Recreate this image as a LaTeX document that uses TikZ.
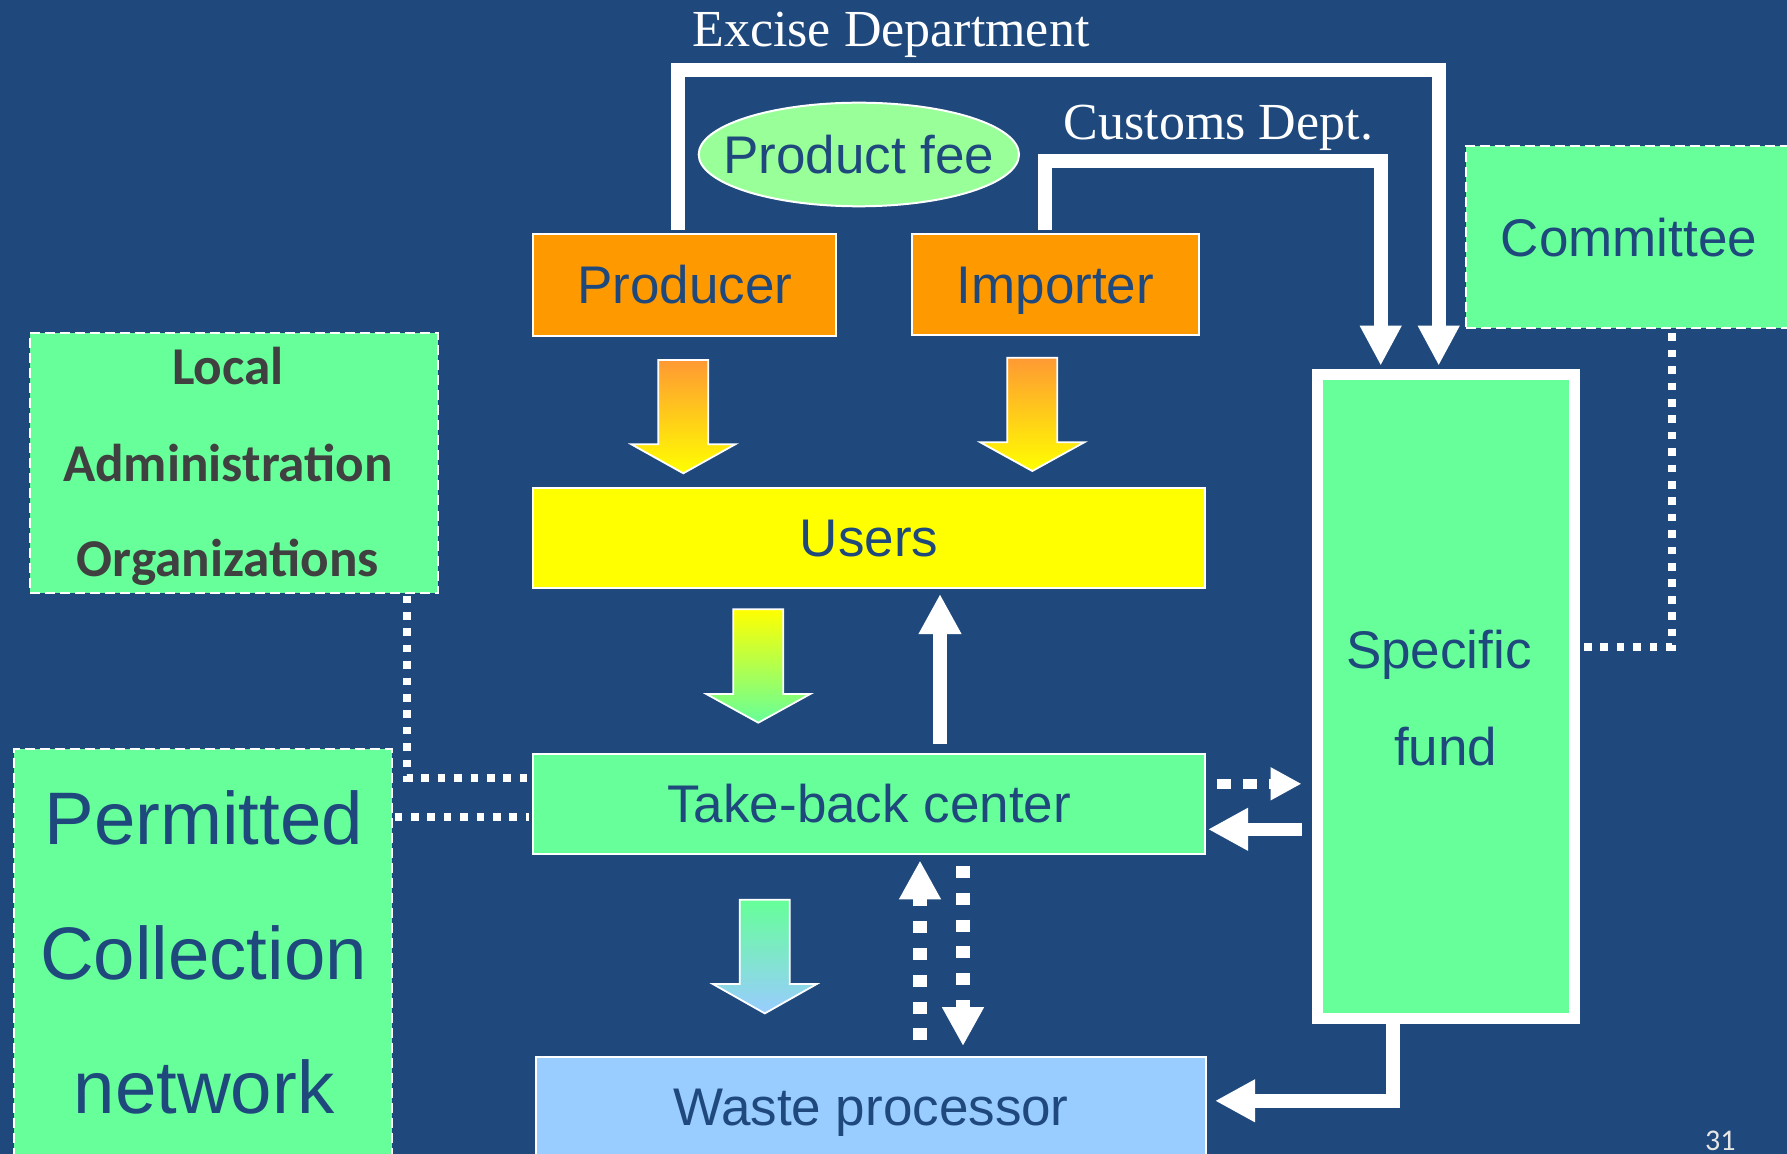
\documentclass[tikz,border=0pt]{standalone}
\usepackage{fontspec}
\usetikzlibrary{arrows.meta,shapes.geometric,calc}
\newfontfamily\arialf{Liberation Sans}
\newfontfamily\calf{Carlito}
\newfontfamily\garf{Liberation Serif}
\definecolor{bg}{HTML}{1F497D}
\definecolor{tblue}{HTML}{1F497D}
\definecolor{orangebox}{HTML}{FF9900}
\definecolor{yellowbox}{HTML}{FFFF00}
\definecolor{greenbox}{HTML}{66FF99}
\definecolor{feegreen}{HTML}{99FF99}
\definecolor{bluebox}{HTML}{99CCFF}
\definecolor{grayt}{HTML}{404040}
\definecolor{arrorange}{HTML}{FF9933}
\definecolor{pagenum}{HTML}{E6E6E6}
% block arrow: centre x, top, head base, tip, top colour, bottom colour
\newcommand\blockarr[6]{%
  \draw[white, line width=0.9pt, line join=miter, top color=#5, bottom color=#6]
    ({#1-25},#2) -- ({#1+25},#2) -- ({#1+25},#3) -- ({#1+52},#3) -- (#1,#4)
    -- ({#1-52},#3) -- ({#1-25},#3) -- cycle;}
\begin{document}
\begin{tikzpicture}[x=0.5pt,y=-0.5pt,
  box/.style={draw=white, line width=1pt, inner sep=0pt, outer sep=0pt,
    font=\arialf\fontsize{26.5}{30}\selectfont, text=tblue,
    text height=19pt, text depth=0pt},
  dashbox/.style={draw=white, line width=1pt, dash pattern=on 5pt off 2.5pt,
    fill=greenbox, inner sep=0pt, outer sep=0pt,
    font=\arialf\fontsize{26.5}{30}\selectfont, text=tblue,
    text height=19pt, text depth=0pt},
  lbl/.style={font=\arialf\fontsize{26.5}{30}\selectfont, text=tblue, inner sep=0pt,
    text height=19pt, text depth=0pt},
  loctxt/.style={font=\calf\bfseries\fontsize{26.6}{30}\selectfont, text=grayt, inner sep=0pt},
  permtxt/.style={font=\arialf\fontsize{37.2}{40}\selectfont, text=tblue, inner sep=0pt},
  sanstxt/.style={font=\arialf\fontsize{26.5}{30}\selectfont, text=tblue, inner sep=0pt},
  serif/.style={font=\garf\fontsize{26}{30}\selectfont, text=white, inner sep=0pt},
  pnum/.style={font=\calf\fontsize{15}{18}\selectfont, text=pagenum, inner sep=0pt},
  bigarr/.style={draw=white, line width=7pt, line join=miter,
    -{Triangle[length=20pt,width=19.5pt]}},
  midarr/.style={draw=white, line width=6.7pt, line join=miter,
    -{Triangle[length=20pt,width=20pt]}},
  dotarr/.style={draw=white, line width=6.8pt, dash pattern=on 6pt off 7.4pt,
    -{Triangle[length=19.4pt,width=19.6pt]}},
  smalldotarr/.style={draw=white, line width=5pt, dash pattern=on 7pt off 6pt,
    -{Triangle[length=15.5pt,width=15.5pt]}},
  sqdots/.style={draw=white, line width=4pt, dash pattern=on 3.8pt off 4.4pt}
]
\useasboundingbox (0,0) rectangle (1787,1154);
\clip (0,0) rectangle (1787,1154);
\fill[bg] (0,0) rectangle (1787,1154);

% ---------- nodes ----------
\node[box, fill=orangebox, minimum width=151.35pt, minimum height=50.7pt] (producer) at (684.65,285) {Producer};
\node[box, fill=orangebox, minimum width=143.65pt, minimum height=50.35pt] (importer) at (1055.35,284.65) {Importer};
\node[box, fill=yellowbox, minimum width=335.7pt, minimum height=50pt] (users) at (869,537.7) {Users};
\node[box, fill=greenbox, minimum width=335.85pt, minimum height=50pt] (takeback) at (869.15,803.7) {Take-back center};
\node[box, fill=bluebox, minimum width=335.15pt, minimum height=50pt] (waste) at (870.85,1106.8) {Waste processor};
\node[ellipse, draw=white, line width=1pt, fill=feegreen, inner sep=0pt, outer sep=0pt,
      minimum width=160.15pt, minimum height=51.8pt,
      label={[lbl]center:Product fee}] (fee) at (858.85,154.5) {};
\node[dashbox, minimum width=204pt, minimum height=129.5pt] (local) at (234,463) {};
\node[dashbox, minimum width=188.8pt, minimum height=203pt] (permitted) at (202.8,952) {};
\node[dashbox, minimum width=163pt, minimum height=91pt] (committee) at (1629,237.5) {Committee};
\node[draw=white, line width=5.5pt, fill=greenbox, inner sep=0pt, outer sep=0pt,
      minimum width=128.65pt, minimum height=322pt] (fund) at (1445.85,696.8) {};

% ---------- texts ----------
\node[loctxt, anchor=base] (lt1) at (228,385) {Local};
\node[loctxt, anchor=base] (lt2) at (228,481.7) {Administration};
\node[loctxt, anchor=base] (lt3) at (228,576.7) {Organizations};
\node[permtxt, anchor=base] (pt1) at (203.8,844.7) {Permitted};
\node[permtxt, anchor=base] (pt2) at (203.5,979) {Collection};
\node[permtxt, anchor=base] (pt3) at (204,1113.3) {network};
\node[sanstxt, anchor=base] (ft1) at (1438.8,668.3) {Specific};
\node[sanstxt, anchor=base] (ft2) at (1445.6,765.5) {fund};
\node[serif, anchor=base west] (excise) at (692,47) {Excise Department};
\node[serif, anchor=base west] (customs) at (1063.5,140) {Customs Dept.};
\node[pnum, anchor=base west] (pagenum) at (1704.7,1150) {31};

% ---------- block arrows ----------
\blockarr{683.3}{360}{444.3}{473.3}{arrorange}{yellowbox}
\blockarr{1032.3}{357.7}{442.3}{471}{arrorange}{yellowbox}
\blockarr{758.3}{609.3}{694}{722.7}{yellowbox}{greenbox}
\blockarr{764.8}{899.8}{984}{1013.4}{greenbox}{bluebox}

% ---------- helper coordinates ----------
\coordinate (ex1) at (678,69.7);
\coordinate (ex2) at (1438.7,69.7);
\coordinate (cu1) at (1045,161);
\coordinate (cu2) at (1380.7,161);
\coordinate (ua) at (940,700);
\coordinate (rd) at (1250,783.8);
\coordinate (la) at (1250,829.3);
\coordinate (du) at (920,950);
\coordinate (dd) at (963,950);
\coordinate (fw) at (1393,1100.8);
\coordinate (lc) at (407.3,778.3);
\coordinate (pc) at (450,816.7);
\coordinate (cm) at (1671.5,647.2);

% ---------- connectors ----------
\draw[bigarr] ($(producer.north -| ex1)+(0,-4)$) -- (ex1) -- (ex2) -- ($(fund.north -| ex2)+(0,-9.1)$);
\draw[bigarr] ($(importer.north -| cu1)+(0,-4)$) -- (cu1) -- (cu2) -- ($(fund.north -| cu2)+(0,-9.1)$);
\draw[midarr] ($(takeback.north -| ua)+(0,-9.7)$) -- ($(users.south -| ua)+(0,6.3)$);
\draw[smalldotarr] ($(takeback.east |- rd)+(11.8,0)$) -- ($(fund.west |- rd)+(-15.7,0)$);
\draw[midarr] ($(fund.west |- la)+(-15.7,0)$) -- ($(takeback.east |- la)+(3,0)$);
\draw[dotarr] ($(waste.north -| du)+(0,-16.4)$) -- ($(takeback.south -| du)+(0,6.8)$);
\draw[dotarr] ($(takeback.south -| dd)+(0,12.2)$) -- ($(waste.north -| dd)+(0,-10.8)$);
\draw[midarr] (fund.south -| fw) -- (fw) -- ($(waste.east |- fw)+(9,0)$);
\draw[sqdots] ($(local.south -| lc)+(0,3)$) -- (lc) -- ($(takeback.west |- lc)+(-4,0)$);
\draw[sqdots] ($(permitted.east |- pc)+(3,0)$) -- ($(takeback.west |- pc)+(-4,0)$);
\draw[sqdots] ($(committee.south -| cm)+(0,5)$) -- (cm) -- (fund.east |- cm);
\end{tikzpicture}
\end{document}
